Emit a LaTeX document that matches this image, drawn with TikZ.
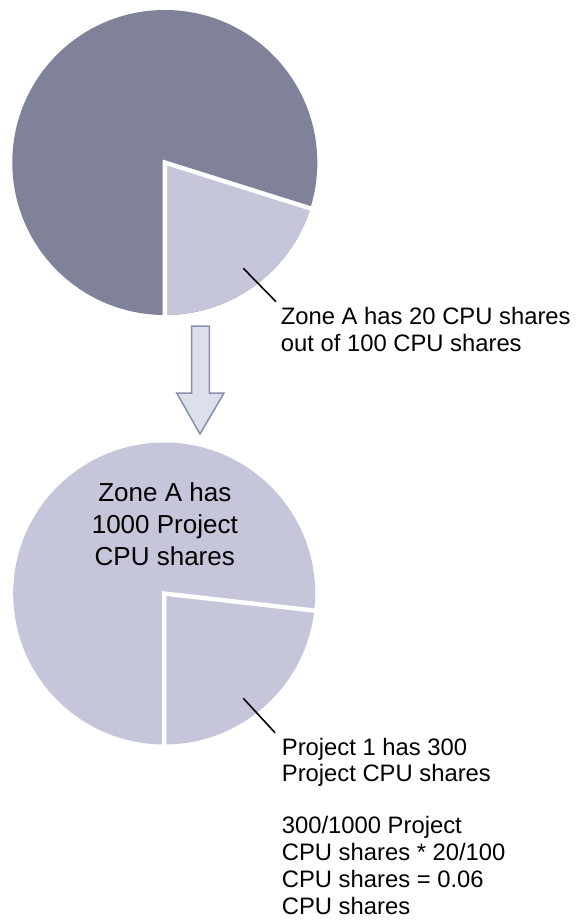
\documentclass[tikz,border=0pt]{standalone}
\usepackage{fontspec}
\setmainfont{Liberation Sans}
\definecolor{sliceDark}{HTML}{7F8298}
\definecolor{sliceLight}{HTML}{C5C6D9}
\definecolor{arrowFill}{HTML}{DCDFEE}
\definecolor{arrowEdge}{HTML}{8B8FA8}
\begin{document}
\begin{tikzpicture}[x=1pt,y=1pt,
  gap/.style={white,line width=4.4pt,line join=miter},
  leader/.style={black,line width=1.6pt},
  label/.style={inner sep=0pt,anchor=north west,align=left,
    font=\fontsize{23.8}{26.8}\selectfont},
  inpie/.style={inner sep=0pt,anchor=north,align=center,
    font=\fontsize{26}{31.7}\selectfont},
  bigarrow/.style={fill=arrowFill,draw=arrowEdge,line width=1.5pt,line join=miter}]
\useasboundingbox (0,0) rectangle (577,-921);

% upper pie: 20 of 100 CPU shares
\coordinate (c1) at (164.8,-162.5);
\fill[sliceDark] (c1) circle[radius=152.5];
\fill[sliceLight] (c1) -- ++(-90:152.5) arc[start angle=-90,end angle=-17.5,radius=152.5] -- cycle;
\draw[gap] (c1) ++(-90:156) -- (c1) -- ++(-17.5:156);

\coordinate (l1a) at (243.3,-268.3);
\coordinate (l1b) at (276,-301.7);
\draw[leader] (l1a) -- (l1b);
\node[label] (zoneLabel) at (280.7,-307.0) {Zone A has 20 CPU shares\\out of 100 CPU shares};

% downward arrow between the pies
\draw[bigarrow] (191.7,-326) -- (209.3,-326) -- (209.3,-393) -- (224,-393)
  -- (200,-434) -- (176.7,-393) -- (191.7,-393) -- cycle;

% lower pie: project shares within zone A
\coordinate (c2) at (164.2,-593.5);
\fill[sliceLight] (c2) circle[radius=151];
\draw[gap] (c2) ++(-90:155) -- (c2) -- ++(-6.5:155);
\node[inpie] (zoneShares) at (164.8,-482.7) {Zone A has\\1000 Project\\CPU shares};

\coordinate (l2a) at (243.3,-698.3);
\coordinate (l2b) at (275,-732.7);
\draw[leader] (l2a) -- (l2b);
\node[label] (projLabel) at (281.7,-737.6) {Project 1 has 300\\Project CPU shares\\[25pt]300/1000 Project\\CPU shares * 20/100\\CPU shares = 0.06\\CPU shares};
\end{tikzpicture}
\end{document}
